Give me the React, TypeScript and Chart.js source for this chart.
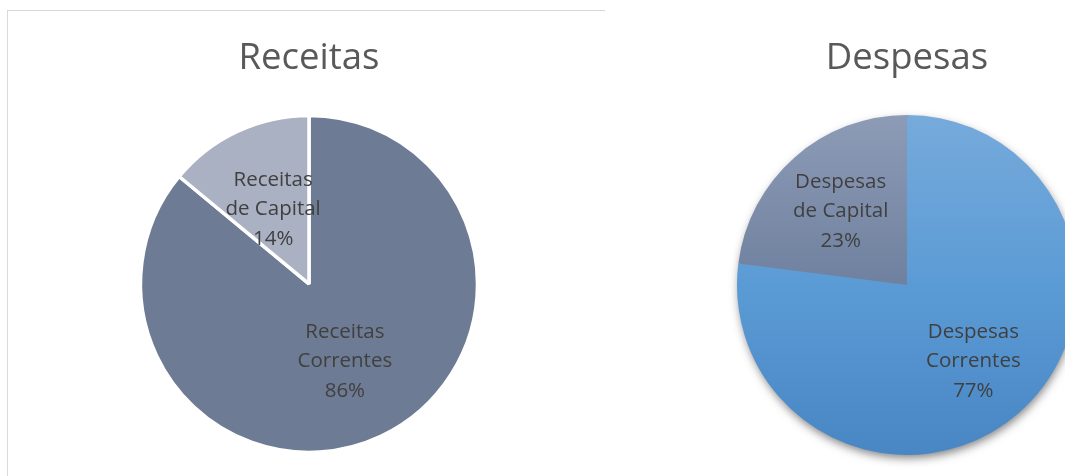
import React, { useEffect, useRef } from "react";
import { Chart, registerables } from "chart.js";

Chart.register(...registerables);

// ---- data ----
const receitasTitle = "Receitas";
const receitasCategories = ["Receitas Correntes", "Receitas de Capital"];
const receitasLabelLines = [["Receitas", "Correntes"], ["Receitas", "de Capital"]];
const receitasValues = [86, 14];

const despesasTitle = "Despesas";
const despesasCategories = ["Despesas Correntes", "Despesas de Capital"];
const despesasLabelLines = [["Despesas", "Correntes"], ["Despesas", "de Capital"]];
const despesasValues = [77, 23];

const FONT = "'Open Sans', 'Noto Sans', sans-serif";

function makeLabelPlugin(lines: string[][], radiusFraction: number) {
  return {
    id: "pieLabels",
    afterDatasetsDraw(chart: any) {
      const { ctx } = chart;
      const meta = chart.getDatasetMeta(0);
      const data = chart.data.datasets[0].data as number[];
      const total = data.reduce((a, b) => a + b, 0);
      ctx.save();
      ctx.font = `20.5px ${FONT}`;
      ctx.fillStyle = "#404040";
      ctx.textAlign = "center";
      ctx.textBaseline = "middle";
      const lh = 29.5;
      meta.data.forEach((arc: any, i: number) => {
        const p = arc.getProps(["x", "y", "startAngle", "endAngle", "outerRadius"], true);
        const mid = (p.startAngle + p.endAngle) / 2;
        const r = p.outerRadius * radiusFraction;
        const cx = p.x + Math.cos(mid) * r;
        const cy = p.y + Math.sin(mid) * r + 1.5;
        const txt = [...lines[i], Math.round((data[i] / total) * 100) + "%"];
        txt.forEach((t, j) => {
          ctx.fillText(t, cx, cy + (j - (txt.length - 1) / 2) * lh);
        });
      });
      ctx.restore();
    },
  };
}

const shadowPlugin = {
  id: "pieShadow",
  beforeDatasetsDraw(chart: any) {
    const arc = chart.getDatasetMeta(0).data[0];
    if (!arc) return;
    const p = arc.getProps(["x", "y", "outerRadius"], true);
    const { ctx } = chart;
    ctx.save();
    ctx.shadowColor = "rgba(0,0,0,0.5)";
    ctx.shadowBlur = 10;
    ctx.shadowOffsetX = 1;
    ctx.shadowOffsetY = 4;
    ctx.beginPath();
    ctx.arc(p.x, p.y, p.outerRadius - 1, 0, Math.PI * 2);
    ctx.fillStyle = "#5B9BD5";
    ctx.fill();
    ctx.restore();
  },
};

function PieChart(props: {
  title: string;
  categories: string[];
  lines: string[][];
  values: number[];
  width: number;
  height: number;
  radius: number;
  padLeft: number;
  padBottom: number;
  labelFraction: number;
  colors: any;
  borderWidth: number;
  shadow: boolean;
}) {
  const ref = useRef<HTMLCanvasElement | null>(null);
  useEffect(() => {
    if (!ref.current) return;
    const plugins: any[] = [makeLabelPlugin(props.lines, props.labelFraction)];
    if (props.shadow) plugins.push(shadowPlugin);
    const chart = new Chart(ref.current, {
      type: "pie",
      data: {
        labels: props.categories,
        datasets: [
          {
            data: props.values,
            backgroundColor: props.colors,
            borderColor: "#ffffff",
            borderWidth: props.borderWidth,
            radius: props.radius,
            hoverOffset: 0,
          } as any,
        ],
      },
      options: {
        responsive: false,
        animation: false,
        events: [],
        layout: { padding: { left: props.padLeft, bottom: props.padBottom, top: 0, right: 0 } },
        plugins: {
          legend: { display: false },
          tooltip: { enabled: false },
          title: {
            display: true,
            text: props.title,
            color: "#595959",
            font: { family: FONT, size: 36.5, weight: "normal", lineHeight: 1.2 },
            padding: { top: 26, bottom: 0 },
          },
        },
      } as any,
      plugins,
    });
    return () => chart.destroy();
  }, []);
  return (
    <canvas
      ref={ref}
      width={props.width}
      height={props.height}
      style={{ width: props.width, height: props.height, display: "block" }}
    />
  );
}

function gradientColors(stopsList: string[][], radius: number, fallback: string[]) {
  return (c: any) => {
    const chart = c.chart;
    const area = chart.chartArea;
    if (!area) return fallback[c.dataIndex];
    const cy = (area.top + area.bottom) / 2;
    const g = chart.ctx.createLinearGradient(0, cy - radius, 0, cy + radius);
    const stops = stopsList[c.dataIndex];
    stops.forEach((col, k) => g.addColorStop(k / (stops.length - 1), col));
    return g;
  };
}

export default function App() {
  const despesasColors = gradientColors(
    [
      ["#76AADB", "#5B9BD5", "#4886C4"],
      ["#8D9BB6", "#6F819F", "#56698B"],
    ],
    170,
    ["#5B9BD5", "#7586A3"]
  );
  return (
    <div
      style={{
        position: "fixed",
        left: 0,
        top: 0,
        width: 1065,
        height: 476,
        overflow: "hidden",
        background: "#ffffff",
      }}
    >
      <div
        style={{
          position: "absolute",
          left: 7,
          top: 10,
          width: 597,
          height: 480,
          borderLeft: "1px solid #D9D9D9",
          borderTop: "1px solid #D9D9D9",
          background: "#ffffff",
        }}
      >
        <PieChart
          title={receitasTitle}
          categories={receitasCategories}
          lines={receitasLabelLines}
          values={receitasValues}
          width={597}
          height={500}
          radius={168.5}
          padLeft={5}
          padBottom={24}
          labelFraction={0.5}
          colors={["#6D7B94", "#A9B1C2"]}
          borderWidth={3.5}
          shadow={false}
        />
      </div>
      <div style={{ position: "absolute", left: 605, top: 11, width: 604, height: 500 }}>
        <PieChart
          title={despesasTitle}
          categories={despesasCategories}
          lines={despesasLabelLines}
          values={despesasValues}
          width={604}
          height={500}
          radius={170}
          padLeft={0}
          padBottom={22}
          labelFraction={0.59}
          colors={despesasColors}
          borderWidth={0}
          shadow={true}
        />
      </div>
    </div>
  );
}
